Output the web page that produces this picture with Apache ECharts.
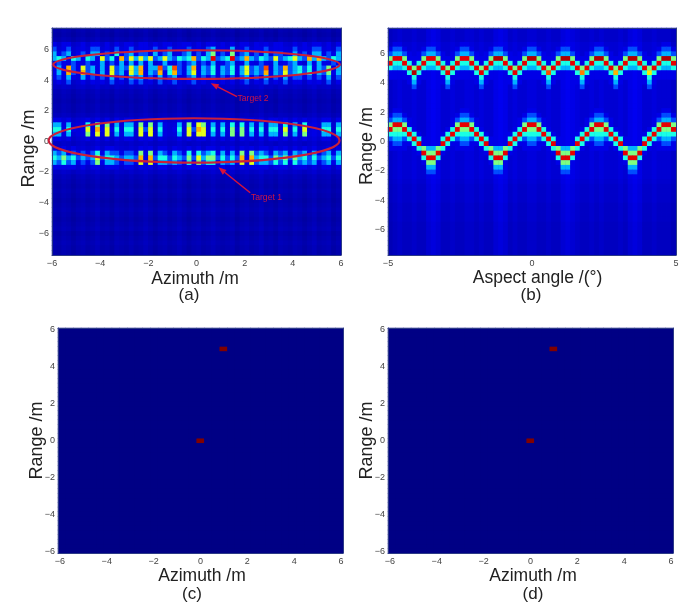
<!DOCTYPE html>
<html>
<head>
<meta charset="utf-8">
<style>
  body { margin: 0; background: #fff; }
  #chart { width: 685px; height: 608px; }
  #chart canvas { filter: blur(0.5px); }
</style>
<script src="https://cdn.jsdelivr.net/npm/echarts@6/dist/echarts.min.js"></script>
</head>
<body>
<div id="chart"></div>
<script>
// intensity levels, 0 (dark blue) .. 10 (dark red)
var jet = ['#000085', '#0000ff', '#007fff', '#00ffff', '#7fff7f', '#ffff00', '#ff7f00', '#ff0000', '#800000'];

// panel (a): 60 columns, 48 rows counted from the top
var aRowBg = [.35,.3,.4,.7,.8,.8,.8,.8,.8,.8,.8,.7,.6,.45,.4,.35,.4,.4,.5,.7,.8,.8,.8,.7,.6,.7,.8,.8,.8,.7,.6,.45,.4,.35,.4,.35,.3,.35,.4,.35,.3,.35,.4,.3,.35,.4,.35,.3];
var aColBg = [.1,.05,.15,.1,0,.1,.15,.05,.1,.2,.05,.1,0,.15,.1,.05,.15,.05,.1,.2,.1,0,.1,.15,.05,.1,.2,.1,0,.1,.15,.05,.1,.2,.1,.05,.1,.15,0,.1,.15,.05,.1,.2,.05,.1,0,.15,.1,.05,.15,.1,0,.1,.2,.05,.1,.15,0,.1];
var aRow3  = [1,0,1,1,0,0,1,0,1,1, 0,1,0,1,0,1,1,0,1,1, 0,1,0,1,1,0,0,1,1,0, 1,0,1,1,0,1,0,1,0,1, 1,0,1,0,1,0,1,1,0,0, 1,0,1,0,1,1,0,1,0,1];
var aRow4  = [2,0,1,2,0,0,1,0,2,2, 0,1,0,2,0,1,2,0,1,1, 0,2,0,1,2,0,0,1,2,0, 1,0,2,3,0,1,0,3,0,1, 2,0,1,0,2,0,1,1,0,0, 2,0,1,0,2,2,0,1,0,2];
var aRow5  = [3,1,2,3,0,1,2,0,3,3, 0,2,0,4,1,2,3,1,2,2, 0,3,1,2,3,0,1,2,3,0, 2,1,3,5,1,2,1,5,0,2, 3,1,2,1,3,0,2,2,0,1, 3,1,2,0,3,3,1,2,1,3];
var aRow6  = [3,4,3,1,4,3,1,4,3,1, 6,2,4,1,7,2,6,3,6,3, 6,2,3,6,3,2,4,3,4,7, 2,4,3,9,2,3,4,9,2,3, 7,3,2,4,3,2,6,2,3,4, 6,3,2,7,3,7,3,2,4,3];
var aRow7  = [1,2,1,0,2,1,0,2,1,0, 3,0,2,0,3,0,3,1,3,1, 3,0,1,3,1,0,2,1,2,3, 0,2,1,3,0,1,2,3,0,1, 3,1,0,2,1,0,3,0,1,2, 3,1,0,3,1,3,1,0,2,1];
var aRow8  = [1,3,1,7,2,1,6,2,3,1, 3,1,6,2,3,2,6,3,7,1, 3,3,8,2,4,8,2,1,3,7, 1,3,2,4,1,3,2,4,1,3, 6,2,3,2,8,1,3,2,7,2, 3,4,2,4,1,3,2,5,1,3];
var aRow9  = [1,3,1,7,2,1,7,2,3,1, 3,1,6,2,3,1,6,3,7,1, 3,2,7,1,4,7,2,1,3,6, 1,3,2,4,1,3,2,4,1,3, 6,2,3,2,7,1,3,2,6,2, 3,4,2,4,1,3,2,5,1,3];
var aRow10 = [1,2,0,3,1,0,3,1,2,0, 2,0,3,1,2,0,3,2,3,0, 2,1,3,1,2,3,1,0,2,3, 0,2,1,2,0,2,1,2,0,2, 3,1,2,1,3,0,2,1,3,1, 2,2,1,2,0,2,1,3,0,2];
var aRow11 = [0,1,0,2,0,0,1,0,1,0, 1,0,2,0,1,0,2,1,2,0, 1,0,2,0,1,2,0,0,1,2, 0,1,0,1,0,1,0,1,0,1, 2,0,1,0,2,0,1,0,2,0, 1,1,0,1,0,1,0,2,0,1];
var aRow19 = [1,1,0,1,0,0,0,1,0,1, 0,1,0,1,0,1,1,0,1,0, 1,0,1,0,0,0,1,0,1,0, 1,1,0,1,0,1,0,1,0,1, 0,1,0,1,0,1,1,0,1,0, 1,0,1,0,0,0,1,1,0,1];
var aRow20 = [3,3,0,3,0,0,0,4,0,5, 0,5,0,3,0,3,3,0,5,1, 5,0,3,0,0,0,3,0,5,1, 6,5,0,3,0,3,0,4,0,4, 0,3,0,3,0,3,3,0,4,0, 3,0,4,0,0,0,3,3,0,3];
var aRow21 = [4,4,1,4,1,0,1,6,0,7, 1,6,1,4,0,4,4,0,6,2, 6,0,4,0,0,1,4,0,6,2, 7,6,0,4,0,4,0,5,1,5, 0,4,0,4,0,4,4,0,6,0, 4,0,6,0,0,0,4,4,0,4];
var aRow22 = [3,3,0,3,0,0,0,5,0,6, 0,6,0,3,0,3,3,0,6,1, 6,0,3,0,0,0,3,0,6,1, 6,6,0,3,0,3,0,5,0,5, 0,3,0,3,0,3,3,0,5,0, 3,0,5,0,0,0,3,3,0,3];
var aRow23 = [1,1,0,1,0,0,0,1,0,1, 0,1,0,1,0,1,1,0,1,0, 1,0,1,0,0,0,1,0,1,0, 1,1,0,1,0,1,0,1,0,1, 0,1,0,1,0,1,1,0,1,0, 1,0,1,0,0,0,1,1,0,1];
var aRow25 = [1,0,1,0,1,0,0,0,0,1, 0,1,1,0,0,0,0,0,1,0, 1,0,1,1,0,1,0,0,1,0, 1,0,1,1,0,1,0,1,0,1, 0,1,0,1,1,0,1,0,1,0, 1,0,1,0,1,0,0,1,0,1];
var aRow26 = [3,2,3,1,2,1,2,1,2,4, 1,3,2,2,1,2,2,1,5,0, 5,1,3,2,1,3,2,1,4,1, 4,2,3,4,1,3,1,3,1,5, 0,5,2,3,2,1,3,2,3,1, 3,2,3,1,3,1,2,3,1,3];
var aRow27 = [4,3,5,3,4,2,3,2,3,6, 2,4,4,3,2,3,3,2,7,1, 7,2,4,4,2,4,3,2,5,2, 6,3,5,5,2,4,2,4,2,7, 1,7,3,4,4,2,5,3,5,2, 5,3,4,2,4,2,3,4,2,4];
var aRow28 = [3,2,4,2,3,1,2,1,2,5, 1,3,3,2,1,2,2,1,6,0, 6,1,3,3,2,3,2,1,4,1, 5,2,4,4,1,3,2,3,1,6, 0,6,2,3,3,2,4,2,4,1, 4,2,3,2,3,1,2,3,1,3];
var aRow29 = [1,1,1,1,1,0,1,0,1,1, 0,1,1,1,0,1,1,0,1,0, 1,0,1,1,0,1,1,0,1,1, 1,1,1,1,0,1,0,1,0,1, 0,1,1,1,1,0,1,1,1,0, 1,1,1,0,1,0,1,1,0,1];
var aDetail = {3:aRow3,4:aRow4,5:aRow5,6:aRow6,7:aRow7,8:aRow8,9:aRow9,10:aRow10,11:aRow11,19:aRow19,20:aRow20,21:aRow21,22:aRow22,23:aRow23,25:aRow25,26:aRow26,27:aRow27,28:aRow28,29:aRow29};

// panel (b): same grid, zigzag tracks
var bRowBg = [.6,.6,.6,.7,.7,.7,.7,.7,.7,.7,.7,.7,.7,.7,.7,.7,.7,.7,.7,.7,.7,.7,.7,.7,.7,.7,.7,.7,.7,.7,.7,.7,.65,.6,.6,.6,.6,.55,.55,.55,.55,.5,.5,.5,.5,.5,.5,.45];
var bColBg = [0,.1,.2,.1,.1,.2,.1,.1,.3,.4,.3,.1,.1,.2,.1,.1,.2,.2,.1,.2,.1,.1,.3,.4,.3,.1,.2,.1,.1,.2,.2,.1,.1,.2,.1,.1,.3,.4,.3,.2,.1,.1,.2,.1,.2,.1,.1,.1,.2,.1,.3,.4,.3,.1,.1,.2,.1,.1,.1,0];
var bRow3  = [0, 1,1,0,0,0,0,0, 1,1,0,0,0,0,0, 1,1,0,0,0,0,0, 1,1,0,0,0,0,0, 1,1,0,0,0,0,0, 1,1,0,0,0,0,0, 1,1,0,0,0,0,0, 1,1,0,0,0,0,0, 1,1,0];
var bRow4  = [1, 2,2,1,0,0,0,1, 2,2,1,0,0,0,1, 2,2,1,0,0,0,1, 2,2,1,0,0,0,1, 2,2,1,0,0,0,1, 2,2,1,0,0,0,1, 2,2,1,0,0,0,1, 2,2,1,0,0,0,1, 2,2,1];
var bRow5  = [2, 3,3,2,1,0,1,2, 3,3,2,1,0,1,2, 3,3,2,1,0,1,2, 3,3,2,1,0,1,2, 3,3,2,1,0,1,2, 3,3,2,1,0,1,2, 3,3,2,1,0,1,2, 3,3,2,1,0,1,2, 3,3,2];
var bRow6  = [5, 9,9,5,1,1,1,5, 9,9,5,1,1,1,5, 9,9,5,1,1,1,5, 9.5,9.5,5,1,1,1,5, 9.5,9.5,5,1,1,1,5, 9.5,9.5,5,1,1,1,5, 9.5,9.5,5,1,1,1,5, 9.5,9.5,5,1,1,1,5, 9.5,9.5,5];
var bRow7  = [9, 4,4,9,4,1,4,9, 4,4,9,4,1,4,9, 4,4,9,4,1,4,9, 4,4,9,4,1,4,9, 4,4,9,4,1,4,9, 4,4,9,4,1,4,9, 4,4,9,4,1,4,9, 4,4,9,4,1,4,9, 4,4,9];
var bRow8  = [4, 3,3,4,9,5,9,4, 3,3,4,9,5,9,4, 3,3,4,9,5,9,4, 3,3,4,9,5,9,4, 3,3,4,9,5,9,4, 3,3,4,9,5,9,4, 3,3,4,9,5,9,4, 3,3,4,9,5,9,4, 3,3,4];
var bRow9  = [1, 1,1,1,4,9.5,4,1, 1,1,1,4,9,4,1, 1,1,1,4,9,4,1, 1,1,1,4,9,4,1, 1,1,1,4,8,4,1, 1,1,1,4,7.5,4,1, 1,1,1,4,7,4,1, 1,1,1,4,6.5,4,1, 1,1,1];
var bRow10 = [1, 1,1,1,1,4,1,1, 1,1,1,1,4,1,1, 1,1,1,1,4,1,1, 1,1,1,1,4,1,1, 1,1,1,1,4,1,1, 1,1,1,1,4,1,1, 1,1,1,1,4,1,1, 1,1,1,1,4,1,1, 1,1,1];
var bRow11 = [0, 0,0,0,1,3,1,0, 0,0,0,1,3,1,0, 0,0,0,1,3,1,0, 0,0,0,1,3,1,0, 0,0,0,1,3,1,0, 0,0,0,1,3,1,0, 0,0,0,1,3,1,0, 0,0,0,1,3,1,0, 0,0,0];
var bRow12 = [0, 0,0,0,0,2,0,0, 0,0,0,0,2,0,0, 0,0,0,0,2,0,0, 0,0,0,0,2,0,0, 0,0,0,0,2,0,0, 0,0,0,0,2,0,0, 0,0,0,0,2,0,0, 0,0,0,0,2,0,0, 0,0,0];
var bRow17 = [0, 1,1,0,0,0,0,0,0,0,0,0,0,0,0, 1,1,0,0,0,0,0,0,0,0,0,0,0,0, 1,1,0,0,0,0,0,0,0,0,0,0,0,0, 1,1,0,0,0,0,0,0,0,0,0,0,0,0, 1,1,0];
var bRow18 = [1, 2,2,1,0,0,0,0,0,0,0,0,0,0,1, 2,2,1,0,0,0,0,0,0,0,0,0,0,1, 2,2,1,0,0,0,0,0,0,0,0,0,0,1, 2,2,1,0,0,0,0,0,0,0,0,0,0,1, 2,2,1];
var bRow19 = [2, 3,3,2,1,0,0,0,0,0,0,0,0,1,2, 3,3,2,1,0,0,0,0,0,0,0,0,1,2, 3,3,2,1,0,0,0,0,0,0,0,0,1,2, 3,3,2,1,0,0,0,0,0,0,0,0,1,2, 3,3,2];
var bRow20 = [5, 9,9,5,1,0,0,0,0,0,0,0,0,1,5, 9,9,5,1,0,0,0,0,0,0,0,0,1,5, 9,9,5,1,0,0,0,0,0,0,0,0,1,5, 9,9,5,1,0,0,0,0,0,0,0,0,1,5, 9,9,5];
var bRow21 = [9, 5,5,9,4,1,0,0,0,0,0,0,1,4,9, 5,5,9,4,1,0,0,0,0,0,0,1,4,9, 5,5,9,4,1,0,0,0,0,0,0,1,4,9, 5,5,9,4,1,0,0,0,0,0,0,1,4,9, 5,5,9];
var bRow22 = [4, 4,4,4,9,4,1,0,0,0,0,1,4,9,4, 4,4,4,9,4,1,0,0,0,0,1,4,9,4, 4,4,4,9,4,1,0,0,0,0,1,4,9,4, 4,4,4,9,4,1,0,0,0,0,1,4,9,4, 4,4,4];
var bRow23 = [2, 3,3,2,4,9,4,1,0,0,1,4,9,4,2, 3,3,2,4,9,4,1,0,0,1,4,9,4,2, 3,3,2,4,9,4,1,0,0,1,4,9,4,2, 3,3,2,4,9,4,1,0,0,1,4,9,4,2, 3,3,2];
var bRow24 = [1, 2,2,1,1,4,9,1,1,1,1,9,4,1,1, 2,2,1,1,4,9,1,1,1,1,9,4,1,1, 2,2,1,1,4,9,1,1,1,1,9,4,1,1, 2,2,1,1,4,9,1,1,1,1,9,4,1,1, 2,2,1];
var bRow25 = [1, 1,1,1,0,1,4,5,3,3,5,4,1,0,1, 1,1,1,0,1,4,5,3,3,5,4,1,0,1, 1,1,1,0,1,4,5,3,3,5,4,1,0,1, 1,1,1,0,1,4,5,3,3,5,4,1,0,1, 1,1,1];
var bRow26 = [0, 0,0,0,0,0,1,9,5,5,9,1,0,0,0, 0,0,0,0,0,1,9,5,5,9,1,0,0,0, 0,0,0,0,0,1,9,5,5,9,1,0,0,0, 0,0,0,0,0,1,9,5,5,9,1,0,0,0, 0,0,0];
var bRow27 = [0, 0,0,0,0,0,0,4,9,9,4,0,0,0,0, 0,0,0,0,0,0,4,9,9,4,0,0,0,0, 0,0,0,0,0,0,4,9,9,4,0,0,0,0, 0,0,0,0,0,0,4,9,9,4,0,0,0,0, 0,0,0];
var bRow28 = [0, 0,0,0,0,0,0,1,5,5,1,0,0,0,0, 0,0,0,0,0,0,1,5,5,1,0,0,0,0, 0,0,0,0,0,0,1,5,5,1,0,0,0,0, 0,0,0,0,0,0,1,5,5,1,0,0,0,0, 0,0,0];
var bRow29 = [0, 0,0,0,0,0,0,0,3,3,0,0,0,0,0, 0,0,0,0,0,0,0,3,3,0,0,0,0,0, 0,0,0,0,0,0,0,3,3,0,0,0,0,0, 0,0,0,0,0,0,0,3,3,0,0,0,0,0, 0,0,0];
var bRow30 = [0, 0,0,0,0,0,0,0,2,2,0,0,0,0,0, 0,0,0,0,0,0,0,2,2,0,0,0,0,0, 0,0,0,0,0,0,0,2,2,0,0,0,0,0, 0,0,0,0,0,0,0,2,2,0,0,0,0,0, 0,0,0];
var bRow31 = [0, 0,0,0,0,0,0,0,1,1,0,0,0,0,0, 0,0,0,0,0,0,0,1,1,0,0,0,0,0, 0,0,0,0,0,0,0,1,1,0,0,0,0,0, 0,0,0,0,0,0,0,1,1,0,0,0,0,0, 0,0,0];
var bDetail = {3:bRow3,4:bRow4,5:bRow5,6:bRow6,7:bRow7,8:bRow8,9:bRow9,10:bRow10,11:bRow11,12:bRow12,17:bRow17,18:bRow18,19:bRow19,20:bRow20,21:bRow21,22:bRow22,23:bRow23,24:bRow24,25:bRow25,26:bRow26,27:bRow27,28:bRow28,29:bRow29,30:bRow30,31:bRow31};

// panels (c), (d): recovered point targets [azimuth, range]
var cTargets = [[0, 0], [1, 5]];
var dTargets = [[0, 0], [1, 5]];

var ticksSix = [-6, -4, -2, 0, 2, 4, 6];
var ticksAspect = [-5, 0, 5];

// annotations of panel (a), in metres
var ellipses = [[0, 5.04, 5.95, .94], [-.1, .07, 6.04, 1.455]];
var arrows = [[1.68, 2.94, .59, 3.82], [2.23, -3.36, .91, -1.69]];
var targetNames = ['Target 2', 'Target 1'];
var targetNamePos = [[1.7, 2.83], [2.26, -3.69]];

var font = '"Liberation Sans", Arial, sans-serif';
var red = '#cb1f3a';
var frame = '#2c3a86';

function indices(n) {
  var out = [];
  for (var i = 0; i < n; i++) out.push(i);
  return out;
}

function bandCells(rowBg, colBg, detail) {
  var cells = [];
  for (var t = 0; t < rowBg.length; t++) {
    for (var c = 0; c < colBg.length; c++) {
      var v = rowBg[t] + colBg[c];
      if (detail[t] && detail[t][c] > v) v = detail[t][c];
      cells.push([c, t, v]);
    }
  }
  return cells;
}

function targetCells(targets) {  // 1/3 m by 1/4 m field, empty but for the targets
  var cells = [];
  for (var t = 0; t < 49; t++) {
    for (var c = 0; c < 37; c++) cells.push([c, t, 0]);
  }
  targets.forEach(function (p) {
    cells[(p[1] + 6) * 4 * 37 + (p[0] + 6) * 3][2] = 10;
  });
  return cells;
}

function tickLabel(v) {
  return String(v).replace('-', '\u2212');
}

var panels = [
  {left: 52, right: 341, top: 28, bottom: 255, xr: 6, yr: 7.44, xt: ticksSix, xname: 'Azimuth /m', xpad: [0, 3, 0, 0], ypad: [0, 14, 0, 0], xgap: 15, ygap: 14, bg: '#0000b0', sub: '(a)', subx: 189, suby: 287, cols: 60, rows: 48, inverse: true, cells: bandCells(aRowBg, aColBg, aDetail)},
  {left: 388, right: 676, top: 28, bottom: 255, xr: 5, yr: 7.7, xt: ticksAspect, xname: 'Aspect angle /(\u00b0)', xpad: [0, 0, 0, 11], ypad: [0, 9, 0, 0], xgap: 14, ygap: 12, bg: '#0000d0', sub: '(b)', subx: 531, suby: 287, cols: 60, rows: 48, inverse: true, cells: bandCells(bRowBg, bColBg, bDetail)},
  {left: 58, right: 343, top: 328, bottom: 553, xr: 6.08, yr: 6.08, xt: ticksSix, xname: 'Azimuth /m', xpad: [0, 0, 0, 3], ypad: [0, 0, 0, 0], xgap: 14, ygap: 12, bg: '#000085', sub: '(c)', subx: 192, suby: 586, cols: 37, rows: 49, inverse: false, cells: targetCells(cTargets)},
  {left: 388, right: 673, top: 328, bottom: 553, xr: 6.08, yr: 6.08, xt: ticksSix, xname: 'Azimuth /m', xpad: [0, 0, 0, 5], ypad: [0, 0, 0, 0], xgap: 14, ygap: 12, bg: '#000085', sub: '(d)', subx: 533, suby: 586, cols: 37, rows: 49, inverse: false, cells: targetCells(dTargets)}
];

var grids = [], xAxes = [], yAxes = [], series = [], titles = [];

panels.forEach(function (p, i) {
  grids.push({
    show: true, left: p.left, top: p.top,
    width: p.right - p.left, height: p.bottom - p.top,
    borderWidth: 0, backgroundColor: p.bg
  });
  var labelStyle = {fontFamily: font, fontSize: 9, color: '#444', formatter: tickLabel};
  var edge = {show: true, onZero: false, lineStyle: {color: frame, width: 1}};
  xAxes.push({
    type: 'value', gridIndex: i, position: 'bottom', z: 4, min: -p.xr, max: p.xr,
    name: p.xname, nameLocation: 'middle', nameGap: p.xgap, nameMoveOverlap: false,
    nameTextStyle: {fontFamily: font, fontSize: 17.5, color: '#222', padding: p.xpad},
    axisLine: edge, axisTick: {show: false}, splitLine: {show: false},
    axisLabel: Object.assign({margin: 4, customValues: p.xt}, labelStyle)
  });
  xAxes.push({
    type: 'category', gridIndex: i, position: 'top', z: 4, data: indices(p.cols),
    axisLine: edge, axisTick: {show: false}, axisLabel: {show: false}, splitLine: {show: false}
  });
  yAxes.push({
    type: 'value', gridIndex: i, position: 'left', z: 4, min: -p.yr, max: p.yr,
    name: 'Range /m', nameLocation: 'middle', nameGap: p.ygap, nameMoveOverlap: false,
    nameTextStyle: {fontFamily: font, fontSize: 18, color: '#222', padding: p.ypad},
    axisLine: edge, axisTick: {show: false}, splitLine: {show: false},
    axisLabel: Object.assign({margin: 3, customValues: ticksSix}, labelStyle)
  });
  yAxes.push({
    type: 'category', gridIndex: i, position: 'right', z: 4, inverse: p.inverse, data: indices(p.rows),
    axisLine: edge, axisTick: {show: false}, axisLabel: {show: false}, splitLine: {show: false}
  });
  series.push({
    type: 'heatmap', xAxisIndex: i * 2 + 1, yAxisIndex: i * 2 + 1,
    data: p.cells, progressive: 0, silent: true, emphasis: {disabled: true}
  });
  titles.push({
    text: p.sub, left: p.subx, top: p.suby, textAlign: 'center', padding: 0,
    textStyle: {fontFamily: font, fontSize: 17, fontWeight: 'normal', color: '#222'}
  });
});

series.push({
  type: 'custom', xAxisIndex: 0, yAxisIndex: 0, z: 5, silent: true, clip: false,
  data: ellipses, encode: {x: 0, y: 1},
  renderItem: function (params, api) {
    var c = api.coord([api.value(0), api.value(1)]);
    var e = api.coord([api.value(0) + api.value(2), api.value(1) + api.value(3)]);
    return {
      type: 'ellipse',
      shape: {cx: c[0], cy: c[1], rx: Math.abs(e[0] - c[0]), ry: Math.abs(e[1] - c[1])},
      style: {fill: 'none', stroke: red, lineWidth: 2.2}
    };
  }
});
series.push({
  type: 'custom', xAxisIndex: 0, yAxisIndex: 0, z: 5, silent: true, clip: false,
  data: arrows, encode: {x: 0, y: 1},
  renderItem: function (params, api) {
    var a = api.coord([api.value(0), api.value(1)]);
    var b = api.coord([api.value(2), api.value(3)]);
    var ang = Math.atan2(b[1] - a[1], b[0] - a[0]);
    var cx = b[0] - 8 * Math.cos(ang), cy = b[1] - 8 * Math.sin(ang);
    var nx = -3 * Math.sin(ang), ny = 3 * Math.cos(ang);
    return {
      type: 'group',
      children: [
        {type: 'line', shape: {x1: a[0], y1: a[1], x2: cx, y2: cy}, style: {stroke: '#d8123a', lineWidth: 1.5}},
        {type: 'polygon', shape: {points: [[b[0], b[1]], [cx + nx, cy + ny], [cx - nx, cy - ny]]}, style: {fill: '#d8123a'}}
      ]
    };
  }
});
series.push({
  type: 'custom', xAxisIndex: 0, yAxisIndex: 0, z: 5, silent: true, clip: false,
  data: targetNamePos, encode: {x: 0, y: 1},
  renderItem: function (params, api) {
    var p = api.coord([api.value(0), api.value(1)]);
    return {
      type: 'text',
      style: {x: p[0], y: p[1], text: targetNames[params.dataIndex], fill: '#cf1545', font: '8.6px ' + font, verticalAlign: 'middle', align: 'left'}
    };
  }
});

var chart = echarts.init(document.getElementById('chart'));
chart.setOption({
  animation: false,
  backgroundColor: '#fff',
  title: titles,
  grid: grids,
  xAxis: xAxes,
  yAxis: yAxes,
  visualMap: {show: false, type: 'continuous', seriesIndex: [0, 1, 2, 3], min: 0, max: 10, inRange: {color: jet}},
  series: series
});
</script>
</body>
</html>
